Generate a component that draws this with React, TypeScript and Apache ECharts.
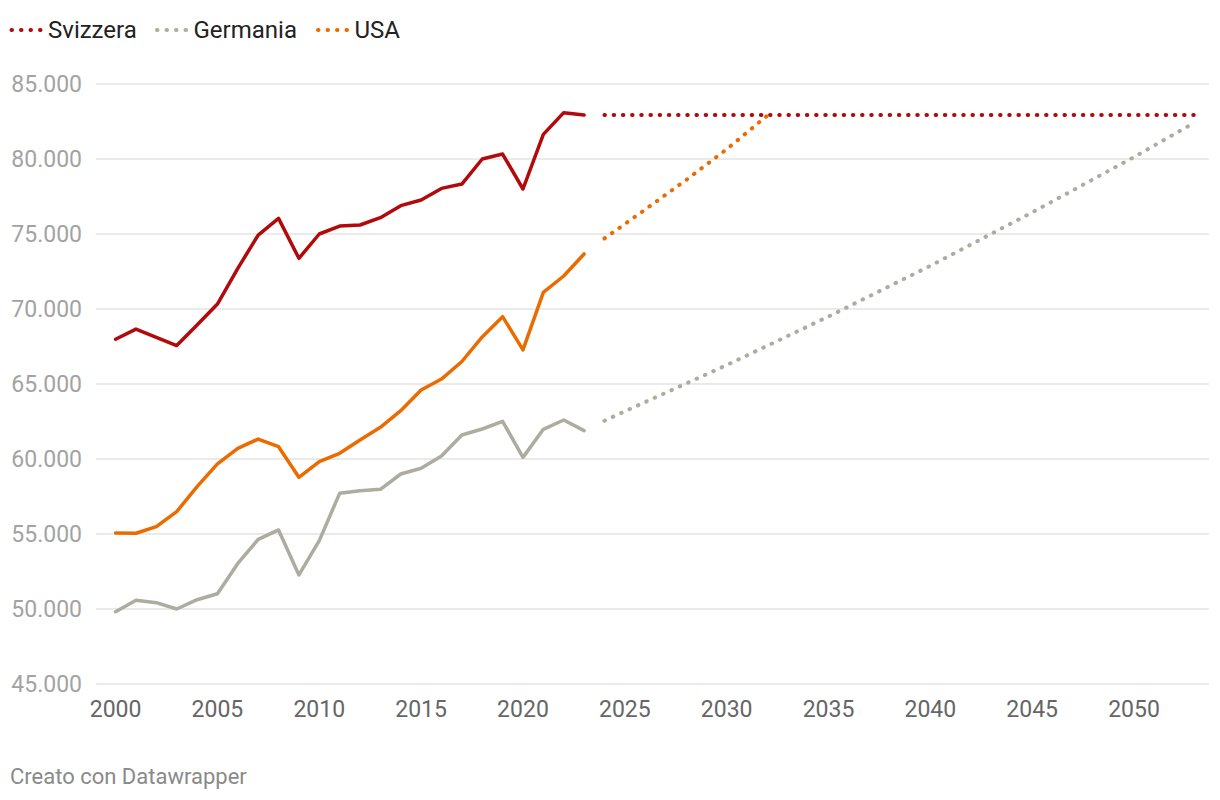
import React, { useEffect, useRef } from "react";
import * as echarts from "echarts";

const years = [2000, 2001, 2002, 2003, 2004, 2005, 2006, 2007, 2008, 2009, 2010, 2011, 2012, 2013, 2014, 2015, 2016, 2017, 2018, 2019, 2020, 2021, 2022, 2023];
const svizzera = [67980, 68660, 68110, 67560, 68930, 70330, 72710, 74930, 76040, 73380, 75000, 75530, 75600, 76090, 76890, 77270, 78040, 78330, 80000, 80330, 78000, 81640, 83090, 82930];
const germania = [49820, 50580, 50420, 50000, 50620, 51020, 53040, 54640, 55270, 52270, 54560, 57710, 57890, 57980, 59000, 59380, 60200, 61600, 62000, 62510, 60110, 61980, 62600, 61890];
const usa = [55070, 55050, 55490, 56490, 58160, 59670, 60710, 61330, 60820, 58780, 59820, 60380, 61270, 62110, 63220, 64600, 65330, 66500, 68140, 69490, 67270, 71110, 72200, 73670];

const svizzeraProjYears = [2024, 2053];
const svizzeraProj = [82930, 82930];
const germaniaProjYears = [2024, 2025, 2030, 2035, 2040, 2045, 2050, 2053];
const germaniaProj = [62550, 63180, 66260, 69500, 72880, 76440, 80130, 82450];
const usaProjYears = [2024, 2026, 2028, 2030, 2032];
const usaProj = [74700, 76630, 78590, 80650, 82900];

const xTickLabels = [2000, 2005, 2010, 2015, 2020, 2025, 2030, 2035, 2040, 2045, 2050];
const legendNames = ["Svizzera", "Germania", "USA"];

const RED = "#b20a0a";
const GRAY = "#adac9f";
const ORANGE = "#ec6b00";
const FONT = "Roboto, 'Noto Sans', sans-serif";

const pairs = (xs: number[], ys: number[]) => xs.map((x, i) => [x, ys[i]]);
const fmt = (v: number) => String(v).replace(/\B(?=(\d{3})+(?!\d))/g, ".");

export default function App() {
  const ref = useRef<HTMLDivElement>(null);
  useEffect(() => {
    if (!ref.current) return;
    const chart = echarts.init(ref.current, undefined, { renderer: "svg" });
    const solid = (name: string, color: string, xs: number[], ys: number[]) => ({
      name,
      type: "line",
      data: pairs(xs, ys),
      showSymbol: false,
      symbol: "none",
      lineStyle: { color, width: 3.5, cap: "round", join: "round" },
      itemStyle: { color },
      z: 3,
    });
    const dotted = (name: string, color: string, xs: number[], ys: number[]) => ({
      name,
      type: "line",
      data: pairs(xs, ys),
      showSymbol: false,
      symbol: "none",
      lineStyle: { color, width: 4, type: [0.5, 8.7], cap: "round" },
      itemStyle: { color },
      z: 2,
    });
    const legendColors = [RED, GRAY, ORANGE];
    const legendX = [11.5, 157, 318];
    const legendGraphics: any[] = [];
    legendNames.forEach((n, i) => {
      legendGraphics.push({
        type: "line",
        shape: { x1: legendX[i], y1: 30, x2: legendX[i] + 29.5, y2: 30 },
        style: { stroke: legendColors[i], lineWidth: 4, lineDash: [0.5, 9], lineCap: "round" },
      });
      legendGraphics.push({
        type: "text",
        x: legendX[i] + 36.5,
        y: 30,
        style: { text: n, fontSize: 24, fontFamily: FONT, fill: "#222222", verticalAlign: "middle" },
      });
    });
    legendGraphics.push({
      type: "text",
      x: 10,
      y: 776,
      style: { text: "Creato con Datawrapper", fontSize: 22, fontFamily: FONT, fill: "#8a8a8a", verticalAlign: "middle" },
    });

    chart.setOption({
      animation: false,
      backgroundColor: "#ffffff",
      grid: { left: 96, right: 11, top: 84, bottom: 116, containLabel: false },
      xAxis: {
        type: "value",
        min: 1999.038,
        max: 2053.68,
        axisLine: { show: false },
        axisTick: { show: false },
        splitLine: { show: false },
        axisLabel: {
          customValues: xTickLabels,
          formatter: (v: number) => String(Math.round(v)),
          color: "#666666",
          fontSize: 23,
          fontFamily: FONT,
          margin: 14,
        },
      },
      yAxis: {
        type: "value",
        min: 45000,
        max: 85000,
        interval: 5000,
        axisLine: { show: false },
        axisTick: { show: false },
        splitLine: { show: true, lineStyle: { color: "#e3e3e3", width: 1.5 } },
        axisLabel: {
          formatter: (v: number) => fmt(v),
          color: "#a3a3a3",
          fontSize: 23,
          fontFamily: FONT,
          margin: 14,
        },
      },
      graphic: legendGraphics,
      series: [
        dotted("Svizzera proiezione", RED, svizzeraProjYears, svizzeraProj),
        dotted("Germania proiezione", GRAY, germaniaProjYears, germaniaProj),
        dotted("USA proiezione", ORANGE, usaProjYears, usaProj),
        solid("Germania", GRAY, years, germania),
        solid("USA", ORANGE, years, usa),
        solid("Svizzera", RED, years, svizzera),
      ],
    });
    return () => chart.dispose();
  }, []);
  return <div ref={ref} style={{ position: "fixed", left: 0, top: 0, width: 1220, height: 800, background: "#fff" }} />;
}
